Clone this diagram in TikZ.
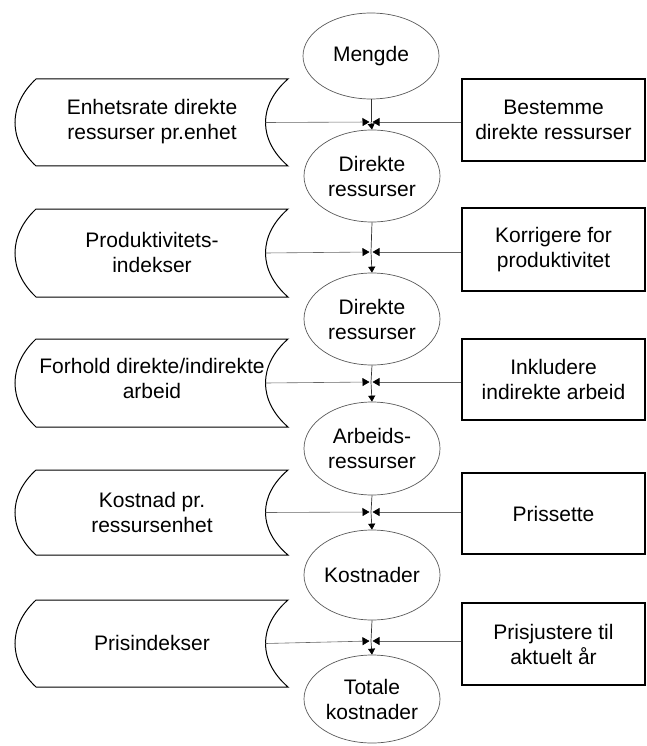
\documentclass[tikz,border=0pt]{standalone}
\usepackage{fontspec}
\setmainfont{Liberation Sans}
\usetikzlibrary{arrows.meta,shapes.geometric}
\newcommand\lshape[5]{% name, top, bottom, text-y, text
  \pgfmathsetmacro\ha{#2+0.3*(#3-#2)}%
  \pgfmathsetmacro\hb{#3-0.3*(#3-#2)}%
  \pgfmathsetmacro\hm{(#2+#3)/2}%
  \draw[lshp] (36,#2) -- (288,#2) .. controls (258,\ha) and (258,\hb) .. (288,#3)
     -- (36,#3) .. controls (8,\hb) and (8,\ha) .. (36,#2) -- cycle;
  \node[txt] (#1) at (152,#4) {#5};
  \coordinate (#1r) at (265.5,\hm);
}
\begin{document}
\begin{tikzpicture}[x=1pt,y=-1pt,
  txt/.style={align=center, font=\fontsize{21}{25}\selectfont, inner sep=0pt},
  ell/.style={ellipse, draw=black!65, line width=0.7pt, minimum width=136pt, minimum height=90pt,
    inner sep=0pt, align=center, font=\fontsize{21}{25}\selectfont},
  rbox/.style={rectangle, draw=black, line width=1.1pt, minimum width=183pt, minimum height=82pt,
    inner sep=0pt, align=center, font=\fontsize{21}{25}\selectfont},
  lshp/.style={draw=black, line width=1pt},
  hline/.style={draw=black!60, line width=0.6pt},
  bow/.style={hline, -{Triangle[length=7pt,width=8pt,color=black]}, shorten >=1.5pt},
  vline/.style={draw=black!80, line width=0.7pt},
  darr/.style={vline, -{Triangle[length=6pt,width=7pt,color=black]}},
]
\useasboundingbox (0,0) rectangle (647,746);

% ellipses
\node[ell, minimum height=86pt] (e1) at (371,56) {Mengde};
\node[ell, minimum height=92pt] (e2) at (372,176) {Direkte\\ressurser};
\node[ell, minimum height=92pt] (e3) at (372,319) {Direkte\\ressurser};
\node[ell, minimum height=93pt] (e4) at (372,448.5) {Arbeids-\\ressurser};
\node[ell, minimum height=90pt] (e5) at (372,575) {Kostnader};
\node[ell, minimum height=88pt] (e6) at (372,699) {Totale\\kostnader};

% right boxes
\node[rbox, minimum height=82pt] (r1) at (553.5,120) {Bestemme\\direkte ressurser};
\node[rbox, minimum height=83pt] (r2) at (553.5,249.5) {Korrigere for\\produktivitet};
\node[rbox, minimum height=81pt] (r3) at (553.5,379.5) {Inkludere\\indirekte arbeid};
\node[rbox, minimum height=81pt] (r4) at (553.5,513.5) {Prissette};
\node[rbox, minimum height=82pt] (r5) at (553.5,644) {Prisjustere til\\aktuelt år};

% left shapes
\lshape{l1}{79}{166}{122}{Enhetsrate direkte\\ressurser pr.enhet}
\lshape{l2}{209}{297}{252}{Produktivitets-\\indekser}
\lshape{l3}{339}{427}{378}{Forhold direkte/indirekte\\arbeid}
\lshape{l4}{470}{555}{512}{Kostnad pr.\\ressursenhet}
\lshape{l5}{600}{687}{643}{Prisindekser}

% junctions
\coordinate (j1) at (371,122);
\coordinate (j2) at (371,252);
\coordinate (j3) at (371,382);
\coordinate (j4) at (371,512);
\coordinate (j5) at (371,641);

\foreach \i/\a/\b in {1/e1/e2, 2/e2/e3, 3/e3/e4, 4/e4/e5, 5/e5/e6} {
  \draw[bow] (l\i r) -- (j\i);
  \draw[bow] (r\i.west |- j\i) -- (j\i);
  \draw[vline] (\a.south) -- (j\i);
  \draw[darr] (j\i) -- (\b.north);
}
\end{tikzpicture}
\end{document}
